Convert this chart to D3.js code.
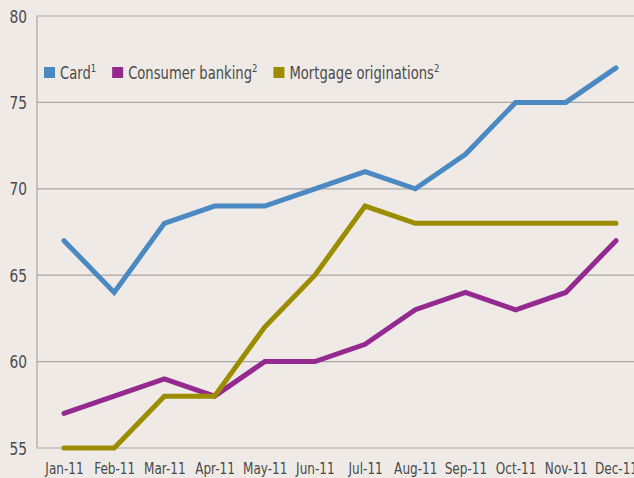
<!DOCTYPE html>
<html><head><meta charset="utf-8">
<script src="https://cdn.jsdelivr.net/npm/d3@7"></script>
<style>
html,body{margin:0;padding:0;background:#efeae6;}
svg text{font-family:"DejaVu Sans Condensed","DejaVu Sans","Open Sans",sans-serif;fill:#4a4a4a;}
</style></head><body>
<svg id="c" width="634" height="478"></svg>
<script>
const months = ["Jan-11","Feb-11","Mar-11","Apr-11","May-11","Jun-11","Jul-11","Aug-11","Sep-11","Oct-11","Nov-11","Dec-11"];
const card = [67,64,68,69,69,70,71,70,72,75,75,77];
const consumerBanking = [57,58,59,58,60,60,61,63,64,63,64,67];
const mortgage = [55,55,58,58,62,65,69,68,68,68,68,68];
const yTicks = [55,60,65,70,75,80];
const seriesNames = ["Card","Consumer banking","Mortgage originations"];
const seriesSup = ["1","2","2"];
const seriesColors = ["#4a89c2","#942a8f","#9b8c00"];

(function(){
const svg = d3.select("#c");
svg.append("rect").attr("width",634).attr("height",478).attr("fill","#efeae6");
const pl=37, pt=16, pb=448;
const x = d3.scalePoint().domain(months).range([64,616]);
const y = d3.scaleLinear().domain([55,80]).range([pb,pt]);

svg.append("g").selectAll("line").data(yTicks).join("line")
  .attr("x1",pl).attr("x2",634).attr("y1",d=>y(d)).attr("y2",d=>y(d))
  .attr("stroke","#a9a6a4").attr("stroke-width",1.2);
svg.append("line").attr("x1",pl).attr("x2",pl).attr("y1",pt).attr("y2",pb)
  .attr("stroke","#a9a6a4").attr("stroke-width",1.2);

const ya = svg.append("g").attr("transform",`translate(${pl},0)`)
  .call(d3.axisLeft(y).tickValues(yTicks).tickSize(0).tickPadding(11));
ya.select(".domain").remove();
ya.selectAll("text").style("font-size","17px").attr("fill","#4a4a4a")
  .attr("transform","scale(0.9,1)").attr("dy","0.36em");

const xa = svg.append("g").attr("transform",`translate(0,${pb})`)
  .call(d3.axisBottom(x).tickSize(0).tickPadding(15));
xa.select(".domain").remove();
xa.selectAll("text").style("font-size","16px").attr("fill","#4a4a4a")
  .attr("transform","scale(0.84,1)");

const data = [card, consumerBanking, mortgage];
const line = d3.line().x((d,i)=>x(months[i])).y(d=>y(d));
svg.append("g").selectAll("path").data(data).join("path")
  .attr("d",line).attr("fill","none")
  .attr("stroke",(d,i)=>seriesColors[i]).attr("stroke-width",5)
  .attr("stroke-linejoin","miter").attr("stroke-linecap","round");

const sx = 0.86;
const lg = svg.append("g").attr("transform","translate(44,73)");
let lx = 0;
seriesNames.forEach((n,i)=>{
  const g = lg.append("g").attr("transform",`translate(${lx},0)`);
  g.append("rect").attr("x",0).attr("y",-6).attr("width",11).attr("height",11).attr("fill",seriesColors[i]);
  const tg = g.append("g").attr("transform",`translate(16,0) scale(${sx},1)`);
  const t = tg.append("text").attr("x",0).attr("y",6).style("font-size","17px");
  t.append("tspan").text(n);
  t.append("tspan").text(seriesSup[i]).attr("dy",-7).style("font-size","11px");
  const w = t.node().getComputedTextLength()*sx;
  lx += 16 + w + 16;
});
})();
</script></body></html>
